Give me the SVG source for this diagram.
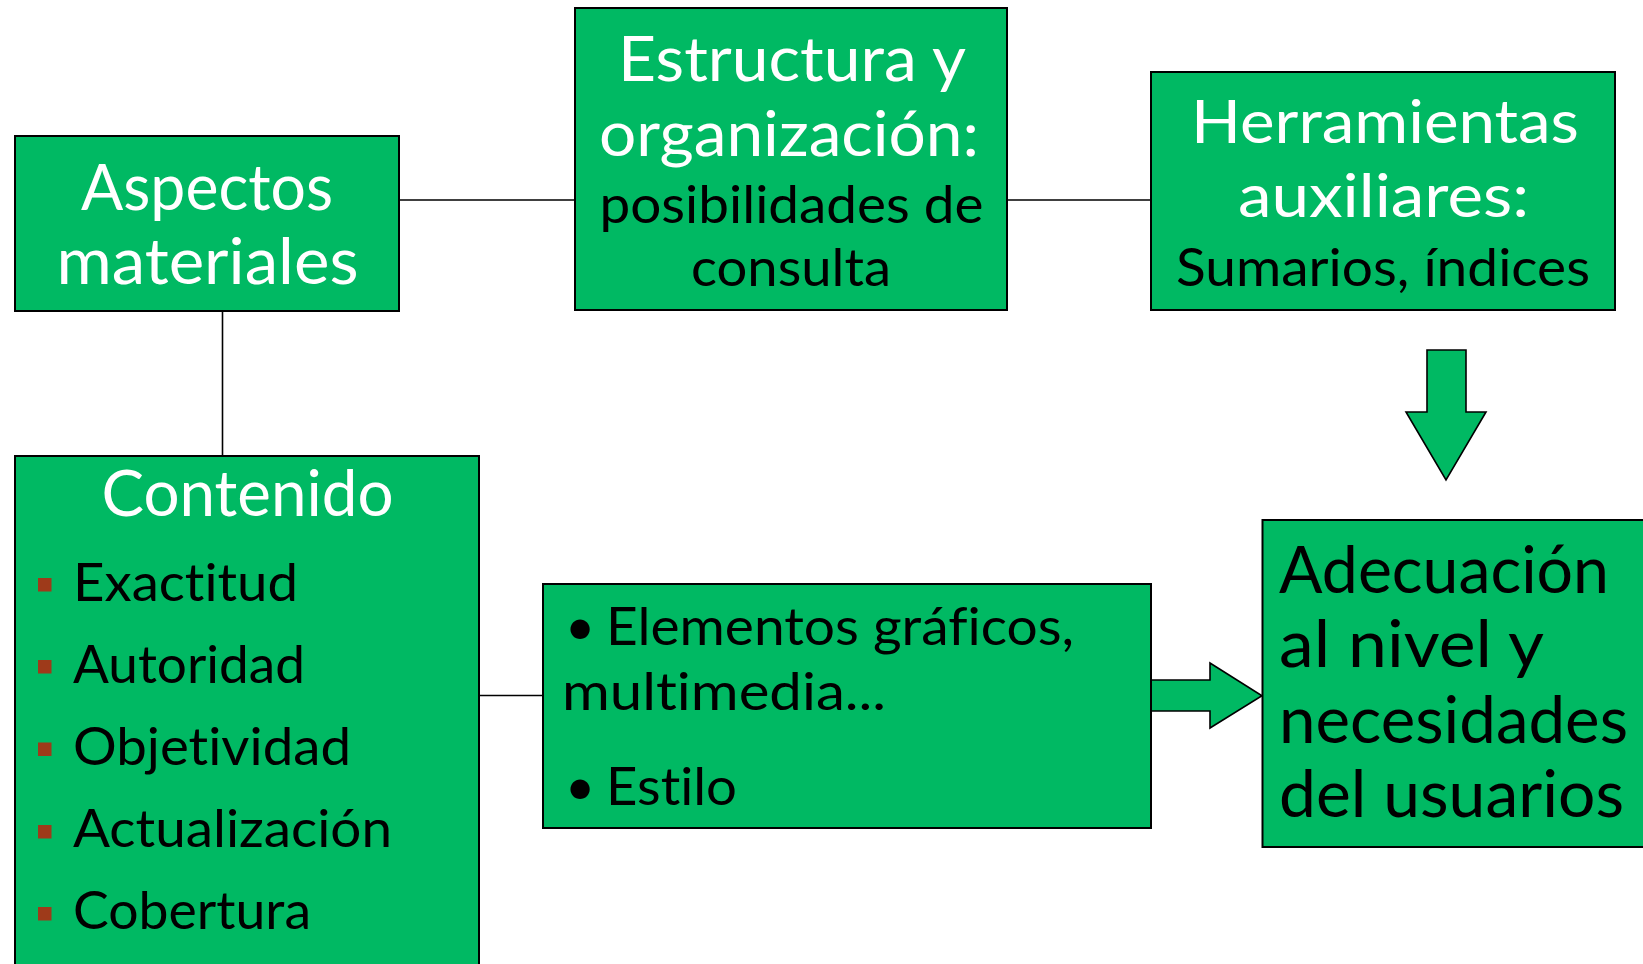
<svg xmlns="http://www.w3.org/2000/svg" width="1643" height="964" viewBox="0 0 1643 964">
<style>
.box{fill:#00B963;stroke:#000;stroke-width:2}
.conn{stroke:#000;stroke-width:1.6;fill:none}
.blk{fill:#00B963;stroke:#000;stroke-width:1.6;stroke-linejoin:miter}
text{font-family:Lato,"Open Sans","Liberation Sans",sans-serif;font-variant-ligatures:none;font-feature-settings:"liga" 0,"clig" 0}
.w{fill:#fff}
.k{fill:#000}
.c{text-anchor:middle}
.sq{fill:#9E3A1A}
</style>
<rect width="1643" height="964" fill="#fff"/>
<g id="connectors">
<line class="conn" x1="399" y1="200" x2="575" y2="200"/>
<line class="conn" x1="1007" y1="200" x2="1151" y2="200"/>
<line class="conn" x1="222.5" y1="311" x2="222.5" y2="456"/>
<line class="conn" x1="479" y1="695.5" x2="543" y2="695.5"/>
<polygon class="blk" points="1427,350 1466,350 1466,412 1486,412 1446,480 1406,412 1427,412"/>
<polygon class="blk" points="1151,680 1210,680 1210,663 1262,695.7 1210,728 1210,711 1151,711"/>
</g>
<g id="aspectos">
<rect class="box" x="15" y="136" width="384" height="175"/>
<text class="w c" x="207" y="210" font-size="64" textLength="252" lengthAdjust="spacingAndGlyphs">Aspectos</text>
<text class="w c" x="207.5" y="284" font-size="64" textLength="302" lengthAdjust="spacingAndGlyphs">materiales</text>
</g>
<g id="estructura">
<rect class="box" x="575" y="8" width="432" height="302"/>
<text class="w c" x="792" y="81" font-size="62" textLength="348" lengthAdjust="spacingAndGlyphs">Estructura y</text>
<text class="w c" x="789" y="156" font-size="62" textLength="380" lengthAdjust="spacingAndGlyphs">organización:</text>
<text class="k c" x="791.5" y="222.7" font-size="52" textLength="384" lengthAdjust="spacingAndGlyphs">posibilidades de</text>
<text class="k c" x="791" y="286" font-size="52" textLength="200" lengthAdjust="spacingAndGlyphs">consulta</text>
</g>
<g id="herramientas">
<rect class="box" x="1151" y="72" width="464" height="238"/>
<text class="w c" x="1385" y="143.3" font-size="60" textLength="388" lengthAdjust="spacingAndGlyphs">Herramientas</text>
<text class="w c" x="1383.5" y="216.7" font-size="60" textLength="291" lengthAdjust="spacingAndGlyphs">auxiliares:</text>
<text class="k c" x="1383" y="285.5" font-size="53" textLength="414" lengthAdjust="spacingAndGlyphs">Sumarios, índices</text>
</g>
<g id="contenido">
<rect class="box" x="15" y="456" width="464" height="540"/>
<text class="w c" x="247.5" y="516" font-size="64" textLength="292" lengthAdjust="spacingAndGlyphs">Contenido</text>
<rect class="sq" x="38" y="578" width="13.5" height="13.5"/>
<text class="k" x="73" y="600.7" font-size="52" textLength="225" lengthAdjust="spacingAndGlyphs">Exactitud</text>
<rect class="sq" x="38" y="660" width="13.5" height="13.5"/>
<text class="k" x="73" y="682.7" font-size="52" textLength="232" lengthAdjust="spacingAndGlyphs">Autoridad</text>
<rect class="sq" x="38" y="742.5" width="13.5" height="13.5"/>
<text class="k" x="73" y="765" font-size="52" textLength="278" lengthAdjust="spacingAndGlyphs">Objetividad</text>
<rect class="sq" x="38" y="825" width="13.5" height="13.5"/>
<text class="k" x="73" y="847.3" font-size="52" textLength="319" lengthAdjust="spacingAndGlyphs">Actualización</text>
<rect class="sq" x="38" y="907" width="13.5" height="13.5"/>
<text class="k" x="73" y="929.3" font-size="52" textLength="238" lengthAdjust="spacingAndGlyphs">Cobertura</text>
</g>
<g id="elementos">
<rect class="box" x="543" y="584" width="608" height="244"/>
<text class="k" x="565" y="645" font-size="52">•</text>
<text class="k" x="606" y="645" font-size="52" textLength="468" lengthAdjust="spacingAndGlyphs">Elementos gráficos,</text>
<text class="k" x="562" y="710" font-size="52" textLength="324" lengthAdjust="spacingAndGlyphs">multimedia...</text>
<text class="k" x="565" y="805" font-size="52">•</text>
<text class="k" x="606" y="805" font-size="52" textLength="131" lengthAdjust="spacingAndGlyphs">Estilo</text>
</g>
<g id="adecuacion">
<rect class="box" x="1262.5" y="520" width="420" height="327"/>
<text class="k" x="1279" y="593.3" font-size="65" textLength="330" lengthAdjust="spacingAndGlyphs">Adecuación</text>
<text class="k" x="1279" y="667.3" font-size="65" textLength="265" lengthAdjust="spacingAndGlyphs">al nivel y</text>
<text class="k" x="1279" y="743.3" font-size="65" textLength="349" lengthAdjust="spacingAndGlyphs">necesidades</text>
<text class="k" x="1279" y="817.3" font-size="65" textLength="345" lengthAdjust="spacingAndGlyphs">del usuarios</text>
</g>
</svg>
